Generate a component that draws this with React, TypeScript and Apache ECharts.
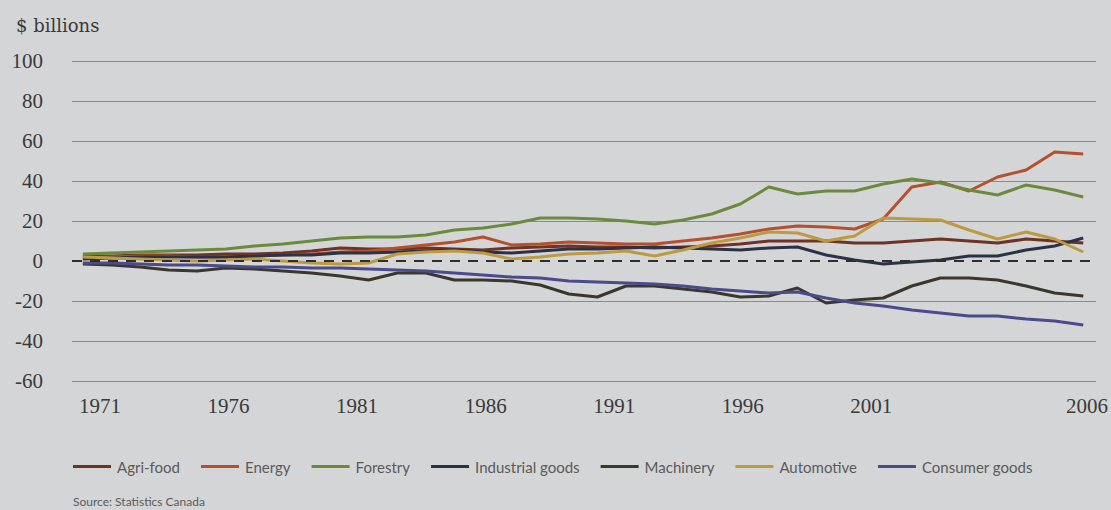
import React, { useEffect, useRef } from "react";
import * as echarts from "echarts";

const years = [
  1971, 1972, 1973, 1974, 1975, 1976, 1977, 1978, 1979, 1980,
  1981, 1982, 1983, 1984, 1985, 1986, 1987, 1988, 1989, 1990,
  1991, 1992, 1993, 1994, 1995, 1996, 1997, 1998, 1999, 2000,
  2001, 2002, 2003, 2004, 2005, 2006,
];

const agriFood = [2.5, 2.5, 3, 3, 3, 3.5, 3.5, 4, 5, 6.5, 6, 6, 6.5, 6, 5.5, 6.5, 7, 7.5, 7, 7, 6.5, 7, 7.5, 8.5, 10, 10, 10, 9, 9, 10, 11, 10, 9, 11, 10, 9];
const energy = [1.5, 2, 2.5, 2.5, 2, 2, 2.5, 3, 3.5, 4.5, 5, 6.5, 8, 9.5, 12, 8, 8.5, 9.5, 9, 8.5, 8.5, 10, 11.5, 13.5, 16, 17.5, 17, 16, 21, 37, 39.5, 35, 42, 45.5, 54.5, 53.5];
const forestry = [3.5, 4, 4.5, 5, 5.5, 6, 7.5, 8.5, 10, 11.5, 12, 12, 13, 15.5, 16.5, 18.5, 21.5, 21.5, 21, 20, 18.5, 20.5, 23.5, 28.5, 37, 33.5, 35, 35, 38.5, 41, 39, 35.5, 33, 38, 35.5, 32];
const industrialGoods = [1, 1.5, 2, 2, 2, 2, 2.5, 3, 3, 4, 4, 4.5, 5, 5.5, 4.5, 4, 5, 6, 6, 6.5, 7, 6.5, 6, 5.5, 6.5, 7, 3, 0.5, -1.5, -0.5, 0.5, 2.5, 2.5, 5.5, 7.5, 11.5];
const machinery = [-1.5, -2, -3, -4.5, -5, -3.5, -4, -5, -6, -7.5, -9.5, -6, -6, -9.5, -9.5, -10, -12, -16.5, -18, -12.5, -12.5, -14, -15.5, -18, -17.5, -13.5, -21, -19.5, -18.5, -12.5, -8.5, -8.5, -9.5, -12.5, -16, -17.5];
const automotive = [2, 1.5, 1, 0.5, 0, 0.5, 1, 0, -1, -1.5, -1, 3.5, 4.5, 5, 4, 1, 2, 3.5, 4, 5, 2.5, 5.5, 9, 11.5, 14.5, 14, 10, 12.5, 21.5, 21, 20.5, 15.5, 11, 14.5, 11, 4.5];
const consumerGoods = [-1, -1, -1.5, -2, -2, -2.5, -3, -3, -3.5, -3.5, -4, -4.5, -5, -6, -7, -8, -8.5, -10, -10.5, -11, -11.5, -12.5, -14, -15, -16, -15.5, -18.5, -21, -22.5, -24.5, -26, -27.5, -27.5, -29, -30, -32];

const yTicks = [-60, -40, -20, 0, 20, 40, 60, 80, 100];
const xTickLabels = ["1971", "1976", "1981", "1986", "1991", "1996", "2001", "2006"];

const seriesNames = ["Agri-food", "Energy", "Forestry", "Industrial goods", "Machinery", "Automotive", "Consumer goods"];
const seriesValues = [agriFood, energy, forestry, industrialGoods, machinery, automotive, consumerGoods];
const seriesColors = ["#6e3324", "#b5502e", "#6b8a3c", "#2b3246", "#3a382c", "#bb9a42", "#4a4a8c"];

const SERIF = "'Liberation Serif', 'Times New Roman', serif";

export default function App() {
  const ref = useRef<HTMLDivElement>(null);

  useEffect(() => {
    if (!ref.current) return;
    const chart = echarts.init(ref.current, null, { renderer: "svg" });

    // printed label slots: evenly spaced for the first labels, last one at the right end
    const labelSlots = xTickLabels.map((t, i) => (i < xTickLabels.length - 1 ? Number(t) : 2009.39));

    const lineSeries = seriesNames.map((name, i) => ({
      name,
      type: "line",
      xAxisIndex: 0,
      yAxisIndex: 0,
      data: years.map((y, k) => [y, seriesValues[i][k]]),
      showSymbol: false,
      symbol: "none",
      lineStyle: { width: 3, color: seriesColors[i] },
      itemStyle: { color: seriesColors[i] },
      z: 3,
    }));

    chart.setOption({
      animation: false,
      backgroundColor: "#d4d5d7",
      title: {
        text: "$ billions",
        left: 11,
        top: 11,
        textStyle: { fontFamily: "'DejaVu Serif', serif", fontSize: 18, fontWeight: "normal", color: "#3a3a3a" },
      },
      grid: { left: 72, right: 14, top: 61, bottom: 129, containLabel: false },
      legend: {
        data: seriesNames,
        left: 73,
        top: 459,
        padding: 0,
        icon: "rect",
        itemWidth: 38,
        itemHeight: 3,
        itemGap: 21,
        textStyle: { fontFamily: "Lato", fontSize: 15, color: "#5a5a5a", padding: [0, 0, 0, 1] },
      },
      graphic: [
        {
          type: "text",
          left: 73,
          top: 495,
          style: { text: "Source: Statistics Canada", fontFamily: "Lato", fontSize: 12, fill: "#5a5a5a" },
        },
      ],
      xAxis: [
        {
          type: "value",
          min: 1970.62,
          max: 2006.45,
          show: false,
        },
        {
          type: "value",
          min: 1969.912,
          max: 2009.745,
          position: "bottom",
          axisLine: { show: false },
          axisTick: { show: false },
          splitLine: { show: false },
          axisLabel: {
            customValues: labelSlots,
            margin: 14,
            fontFamily: SERIF,
            fontSize: 21,
            color: "#3a3a3a",
            formatter: (v: number) => {
              const idx = labelSlots.findIndex((s) => Math.abs(s - v) < 0.01);
              return idx >= 0 ? xTickLabels[idx] : "";
            },
          },
        },
      ],
      yAxis: {
        type: "value",
        min: yTicks[0],
        max: yTicks[yTicks.length - 1],
        interval: 20,
        axisLine: { show: false },
        axisTick: { show: false },
        axisLabel: {
          margin: 29,
          fontFamily: SERIF,
          fontSize: 21,
          color: "#3a3a3a",
        },
        splitLine: {
          show: true,
          lineStyle: {
            width: 1,
            color: yTicks.map((v) => (v === 0 ? "rgba(0,0,0,0)" : "#8a8a8a")),
          },
        },
      },
      series: [
        {
          name: "zero",
          type: "line",
          xAxisIndex: 0,
          yAxisIndex: 0,
          data: [],
          z: 1,
          markLine: {
            silent: true,
            symbol: ["none", "none"],
            label: { show: false },
            lineStyle: { type: [10, 8], color: "#2e2e2e", width: 2 },
            data: [{ yAxis: 0 }],
          },
        },
        ...lineSeries,
      ],
    });

    return () => chart.dispose();
  }, []);

  return (
    <div
      ref={ref}
      style={{ position: "fixed", left: 0, top: 0, width: 1111, height: 510 }}
    />
  );
}
